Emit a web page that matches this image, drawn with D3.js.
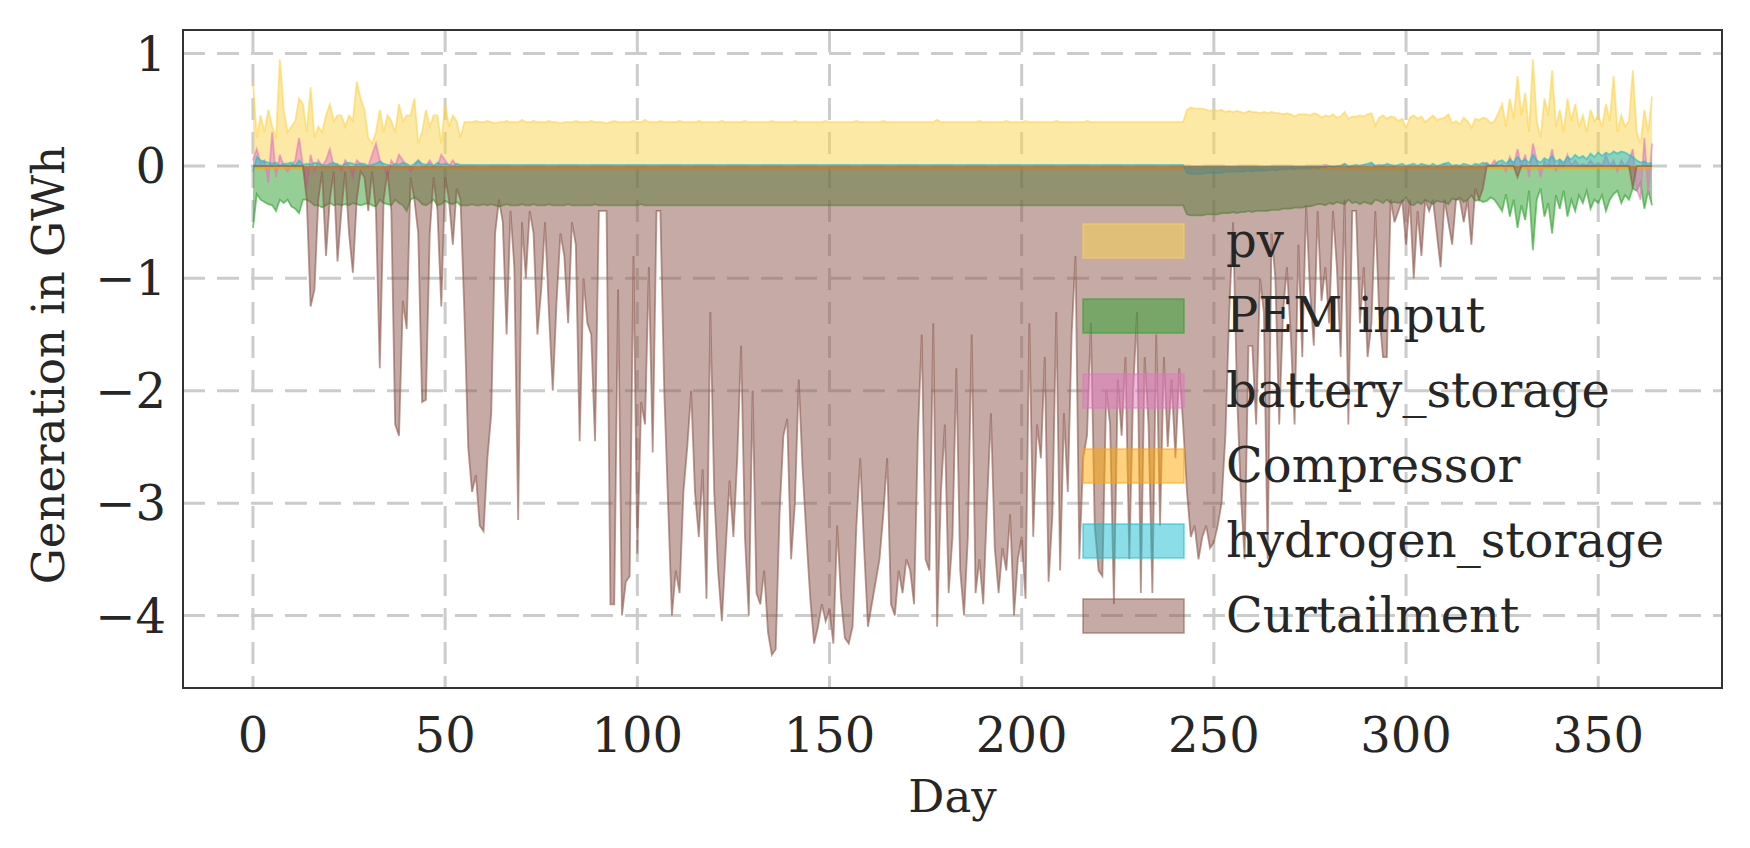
<!DOCTYPE html>
<html><head><meta charset="utf-8">
<script src="https://cdn.jsdelivr.net/npm/d3@7"></script>
<style>body{margin:0;background:#fff}svg{font-family:"DejaVu Serif",serif}</style>
</head><body><svg id="c" width="1750" height="848"></svg>
<script>
// ---- data (GWh per day, day index 0..364) ----
const xTicks=[0,50,100,150,200,250,300,350];
const yTicks=[1,0,-1,-2,-3,-4];
const seriesNames=["pv","PEM input","battery_storage","Compressor","hydrogen_storage","Curtailment"];
const seriesColors=["#fcd34d","#2ca02c","#e377c2","#ffa500","#17becf","#8c564b"];

const pvA=[0.75,0.25,0.45,0.3,0.5,0.35,0.25,0.95,0.5,0.3,0.35,0.4,0.6,0.55,0.3,0.7,0.25,0.35,0.3,0.45,0.55,0.4,0.45,0.45,0.35,0.45,0.4,0.75,0.6,0.5,0.25,0.2,0.3,0.5,0.3,0.45,0.4,0.3,0.55,0.4,0.45,0.45,0.6,0.2,0.3,0.5,0.35,0.45,0.45,0.2,0.55,0.35,0.45,0.4,0.25,0.39];
const pvB=[0.39,0.39,0.40,0.39,0.39,0.40,0.39,0.38,0.39,0.39,
0.40,0.39,0.39,0.39,0.41,0.39,0.39,0.40,0.39,0.39,
0.39,0.40,0.39,0.39,0.38,0.39,0.39,0.39,0.40,0.39,
0.39,0.39,0.40,0.39,0.39,0.39,0.38,0.39,0.40,0.39,
0.39,0.39,0.39,0.40,0.39,0.39,0.41,0.39,0.39,0.39,
0.40,0.39,0.39,0.39,0.39,0.40,0.39,0.39,0.39,0.39,
0.40,0.39,0.39,0.39,0.39,0.39,0.40,0.39,0.39,0.39,
0.39,0.39,0.40,0.39,0.39,0.39,0.39,0.39,0.39,0.40,
0.39,0.39,0.39,0.39,0.39,0.40,0.39,0.39,0.39,0.39,
0.39,0.39,0.39,0.40,0.39,0.39,0.39,0.39,0.39,0.39,
0.39,0.40,0.39,0.39,0.39,0.39,0.39,0.39,0.40,0.39,
0.39,0.39,0.39,0.39,0.39,0.39,0.39,0.39,0.39,0.39,
0.39,0.39,0.41,0.39,0.39,0.39,0.39,0.39,0.39,0.39,
0.39,0.39,0.39,0.40,0.39,0.39,0.39,0.39,0.39,0.39,
0.40,0.39,0.39,0.39,0.39,0.40,0.39,0.39,0.39,0.39,
0.39,0.39,0.39,0.40,0.39,0.39,0.39,0.39,0.39,0.39,
0.39,0.40,0.39,0.39,0.39,0.39,0.39,0.39,0.39,0.39,
0.39,0.39,0.39,0.39,0.39,0.39,0.39,0.39,0.39,0.39,
0.39,0.39,0.39,0.39,0.39,0.39,0.39];
const pvC=[0.50,0.52,0.51,0.51,0.51,0.50,0.49,0.50,0.49,0.50,
0.48,0.49,0.48,0.49,0.48,0.47,0.49,0.48,0.48,0.47,
0.48,0.47,0.48,0.47,0.47,0.46,0.47,0.46,0.44,0.46,
0.46,0.46,0.45,0.47,0.46,0.43,0.45,0.44,0.46,0.43,
0.44,0.48,0.42,0.44,0.44,0.45,0.44,0.46,0.47,0.36,
0.43,0.45,0.42,0.44,0.43,0.40,0.42];
const pvD=[0.34,0.43,0.45,0.42,0.44,0.39,0.42,0.45,0.41,0.42,
0.43,0.46,0.38,0.40,0.37,0.43,0.40,0.34,0.42,0.41,
0.43,0.42,0.38,0.40,0.47,0.55,0.35,0.60,0.42,0.80,
0.45,0.65,0.30,0.95,0.40,0.25,0.60,0.45,0.85,0.35,
0.50,0.30,0.60,0.40,0.55,0.35,0.45,0.30,0.50,0.40,
0.45,0.35,0.55,0.40,0.80,0.30,0.45,0.35,0.40,0.85,
0.30,0.20,0.50,0.30,0.62];
const pemA=[-0.55,-0.25,-0.3,-0.32,-0.34,-0.35,-0.4,-0.3,-0.33,-0.3,-0.36,-0.38,-0.42,-0.3,-0.3,-0.32,-0.35,-0.35,-0.37,-0.35,-0.33,-0.35,-0.34,-0.35,-0.34,-0.35,-0.33,-0.34,-0.35,-0.34,-0.33,-0.35,-0.36,-0.3,-0.33,-0.34,-0.35,-0.3,-0.33,-0.35,-0.4,-0.3,-0.28,-0.3,-0.34,-0.35,-0.33,-0.3,-0.35,-0.34,-0.31,-0.33,-0.34,-0.32,-0.35,-0.35];
const pemB=[-0.35,-0.34,-0.35,-0.35,-0.34,-0.35,-0.34,-0.35,-0.36,-0.35,
-0.34,-0.35,-0.35,-0.35,-0.34,-0.35,-0.35,-0.34,-0.35,-0.35,
-0.35,-0.34,-0.35,-0.35,-0.35,-0.35,-0.34,-0.35,-0.35,-0.35,
-0.35,-0.35,-0.35,-0.34,-0.35,-0.35,-0.35,-0.35,-0.35,-0.35,
-0.35,-0.35,-0.35,-0.35,-0.35,-0.34,-0.35,-0.35,-0.35,-0.35,
-0.35,-0.35,-0.35,-0.35,-0.35,-0.35,-0.35,-0.35,-0.35,-0.35,
-0.35,-0.35,-0.35,-0.35,-0.35,-0.35,-0.35,-0.35,-0.35,-0.35,
-0.35,-0.35,-0.35,-0.35,-0.35,-0.35,-0.35,-0.35,-0.35,-0.35,
-0.35,-0.35,-0.35,-0.35,-0.35,-0.35,-0.35,-0.35,-0.35,-0.35,
-0.35,-0.35,-0.35,-0.35,-0.35,-0.35,-0.35,-0.35,-0.35,-0.35,
-0.35,-0.35,-0.35,-0.35,-0.35,-0.35,-0.35,-0.35,-0.35,-0.35,
-0.35,-0.35,-0.35,-0.35,-0.35,-0.35,-0.35,-0.35,-0.35,-0.35,
-0.35,-0.35,-0.35,-0.35,-0.35,-0.35,-0.35,-0.35,-0.35,-0.35,
-0.35,-0.35,-0.35,-0.35,-0.35,-0.35,-0.35,-0.35,-0.35,-0.35,
-0.35,-0.35,-0.35,-0.35,-0.35,-0.35,-0.35,-0.35,-0.35,-0.35,
-0.35,-0.35,-0.35,-0.35,-0.35,-0.35,-0.35,-0.35,-0.35,-0.35,
-0.35,-0.35,-0.35,-0.35,-0.35,-0.35,-0.35,-0.35,-0.35,-0.35,
-0.35,-0.35,-0.35,-0.35,-0.35,-0.35,-0.35,-0.35,-0.35,-0.35,
-0.35,-0.35,-0.35,-0.35,-0.35,-0.35,-0.35];
const pemC=[-0.43,-0.44,-0.44,-0.44,-0.44,-0.43,-0.43,-0.43,-0.43,-0.42,
-0.42,-0.42,-0.41,-0.42,-0.41,-0.41,-0.40,-0.41,-0.40,-0.40,
-0.40,-0.40,-0.39,-0.39,-0.39,-0.38,-0.38,-0.38,-0.37,-0.37,
-0.37,-0.36,-0.36,-0.35,-0.34,-0.34,-0.35,-0.33,-0.34,-0.32,
-0.33,-0.34,-0.30,-0.33,-0.32,-0.34,-0.32,-0.33,-0.34,-0.30,
-0.31,-0.33,-0.30,-0.33,-0.32,-0.33,-0.32];
const pemD=[-0.28,-0.34,-0.35,-0.32,-0.34,-0.30,-0.32,-0.34,-0.31,-0.32,
-0.32,-0.34,-0.29,-0.30,-0.28,-0.32,-0.30,-0.26,-0.31,-0.30,
-0.32,-0.31,-0.28,-0.30,-0.35,-0.40,-0.25,-0.45,-0.30,-0.55,
-0.35,-0.48,-0.22,-0.75,-0.30,-0.20,-0.45,-0.33,-0.60,-0.26,
-0.38,-0.22,-0.45,-0.30,-0.40,-0.26,-0.33,-0.22,-0.38,-0.30,
-0.33,-0.26,-0.40,-0.30,-0.25,-0.22,-0.33,-0.26,-0.30,-0.20,
-0.22,-0.15,-0.38,-0.22,-0.35];
const batA=[0.05,0.15,0.02,0.05,-0.15,0.3,-0.1,0.1,0.0,-0.05,0.0,0.05,0.25,0.0,-0.2,0.1,-0.05,0.05,0.0,0.05,0.15,0.0,0.02,-0.05,0.05,0.0,-0.1,0.05,0.02,0.0,0.0,0.1,0.2,0.05,0.0,-0.1,0.05,0.0,0.1,0.05,0.0,-0.05,0.0,0.05,0.0,0.0,0.05,0.0,0.0,0.1,0.05,0.0,0.05,0.0,0.0,0.0];
const batB=[0,0,0,0,0,0,0,0,0,0,0,0,0,0,0,0,0,0,0,0,0,0,0,0,0,0,0,0,0,0,0,0,0,0,0,0,0,0,0,0,0,0,0,0,0,0,0,0,0,0,0,0,0,0,0,0,0,0,0,0,0,0,0,0,0,0,0,0,0,0,0,0,0,0,0,0,0,0,0,0,0,0,0,0,0,0,0,0,0,0,0,0,0,0,0,0,0,0,0,0,0,0,0,0,0,0,0,0,0,0,0,0,0,0,0,0,0,0,0,0,0,0,0,0,0,0,0,0,0,0,0,0,0,0,0,0,0,0,0,0,0,0,0,0,0,0,0,0,0,0,0,0,0,0,0,0,0,0,0,0,0,0,0,0,0,0,0,0,0,0,0,0,0,0,0,0,0,0,0,0,0,0,0,0,0,0,0];
const batC=[0,0,0,0,0,0,0,0,0,0,0,0,0,0,0,0,0,0,0,0,0,0,0,0,0,0,0,0,0,0,0,0,0,0,0,0,0.01,0,0,0,0,0.02,0,0,0,0,0.01,0,0.02,0,0,0.01,0,0,0,0,0];
const batD=[0,0,0,0,0,0,0,0,0,0,0.02,0,0,0,0,0,0,0,0,0,0,0.03,0,0.05,0,0.02,-0.05,0.08,0,0.15,0,0.1,-0.1,0.2,0.05,-0.1,0.05,0,0.15,-0.05,0.05,0,0.1,0,0.05,0,0.02,0,0.05,0,0.03,0,0.1,0,0.05,-0.05,0.05,0,0.05,0.15,-0.2,-0.3,0.25,-0.25,0.2];
const h2A=[-0.05,0.08,0.05,0.04,0.03,0.02,0.03,0.0,0.02,0.02,0.03,0.0,0.05,0.01,0.02,0.01,0.03,0.02,0.01,0.0,0.02,0.03,0.01,0.0,0.02,0.03,0.02,0.01,0.02,0.02,0.0,0.01,0.02,0.04,0.02,0.01,0.0,0.02,0.01,0.03,0.02,0.0,0.02,0.05,0.02,0.01,0.02,0.0,0.03,0.01,0.02,0.01,0.0,0.02,0.01,0.01];
const h2B=pemB.map(v=>0.01); // near-constant small storage flow during summer block
const h2C=[-0.06,-0.07,-0.07,-0.07,-0.07,-0.06,-0.06,-0.06,-0.06,-0.06,-0.05,-0.05,-0.05,-0.05,-0.05,-0.05,-0.04,-0.05,-0.04,-0.04,-0.04,-0.04,-0.03,-0.04,-0.03,-0.03,-0.03,-0.02,-0.03,-0.02,-0.02,-0.02,-0.02,-0.01,-0.02,-0.01,-0.01,0.0,-0.01,0.0,0.0,0.02,-0.01,0.0,0.01,0.0,0.01,0.02,0.03,0.0,0.01,0.0,0.02,0.01,0.0,0.01,0.02];
const h2D=[0.0,0.01,0.02,0.0,0.02,0.01,0.0,0.02,0.0,0.01,0.02,0.03,0.0,0.01,0.0,0.02,0.01,0.0,0.02,0.01,0.03,0.02,0.0,0.01,0.04,0.05,0.02,0.06,0.03,0.08,0.04,0.06,0.03,0.10,0.05,0.03,0.07,0.05,0.09,0.04,0.06,0.03,0.08,0.06,0.10,0.07,0.09,0.06,0.11,0.08,0.12,0.09,0.12,0.10,0.13,0.11,0.13,0.12,0.10,0.08,0.05,0.03,0.04,0.02,0.03];
const compA=pemA.map(v=>-0.02);
const compB=pemB.map(v=>-0.03);
const compC=pemC.map(v=>-0.03);
const compD=pemD.map(v=>-0.02);
const curtA=[0,0,0,0,0,0,0,0,0,0,0,0,0,0,
-0.3,-1.25,-1.1,-0.3,-0.05,-0.8,-0.3,-0.05,-0.85,-0.4,-0.05,-0.6,-0.95,-0.3,-0.05,-0.1,
-0.4,-0.05,-0.4,-1.8,-0.3,-0.05,-0.4,-2.3,-2.4,-1.2,-1.45,-0.1,-0.3,-0.6,-2.1,-2.08,-0.6,-0.1,-0.4,-1.25,
-0.1,-0.3,-0.7,-0.2,-0.3,-1.3,-2.5,-2.9,-2.75,-3.2,-3.25,-2.6,-2.2,-0.6,-0.3,-0.5,-1.5,-0.4,-0.9,-3.15,
-0.5,-1.0,-0.4,-0.6,-1.5,-1.1,-0.5,-1.3,-2.0,-1.2,-0.6,-0.8,-1.4,-0.5,-0.7,-2.45,-1.0,-1.4,-1.5,-2.45,
-0.4,-0.4,-0.4,-3.9,-3.9,-1.1,-4.0,-3.7,-3.65,-0.8,-3.45,-2.1,-2.3,-0.9,-2.55,-0.4,-0.4,-2.0,-3.0,-4.0,
-3.6,-3.8,-2.9,-2.5,-2.0,-2.9,-3.3,-2.7,-3.85,-1.3,-2.9,-3.6,-4.05,-3.4,-2.8,-3.3,-2.6,-1.6,-3.3,-4.0,
-2.0,-3.8,-3.9,-3.6,-4.15,-4.35,-4.3,-3.1,-2.4,-2.25,-3.5,-3.0,-1.9,-2.7,-3.3,-3.85,-4.25,-4.1,-3.9,-4.05,
-3.95,-4.25,-3.2,-3.85,-4.2,-4.25,-4.1,-3.2,-2.6,-3.4,-4.1,-3.9,-3.7,-3.5,-3.1,-2.6,-3.9,-4.0,-3.6,-3.8,
-3.5,-3.6,-3.9,-2.4,-1.5,-3.5,-3.6,-1.4,-4.1,-2.9,-2.3,-3.8,-3.3,-1.8,-3.6,-4.0,-3.3,-1.5,-3.8,-3.5,
-3.9,-3.0,-2.2,-3.4,-3.8,-3.4,-3.6,-3.1,-4.0,-3.5,-3.3,-3.85,-1.4,-3.3,-2.3,-2.6,-1.7,-3.7,-3.1,-1.3,
-3.6,-2.2,-2.9,-1.5,-0.8,-3.5,-2.6,-2.4,-1.4,-3.2,-3.6,-3.65,-2.0,-2.3,-3.9,-1.9,-2.4,-1.7,-3.5,-2.0,
-1.3,-3.8,-1.7,-2.3,-3.8,-1.5,-3.2,-1.7,-2.5,-1.9,-2.6,-1.8,-2.3,-2.9,-3.3,-3.2,-3.5,-3.3,-3.2,-3.4,
-3.35,-3.2,-3.0,-2.4,-1.3,-0.5,-2.0,-2.9,-3.5,-1.6,-1.6,-2.3,-1.0,-1.3,-3.5,-0.6,-1.0,-2.3,-1.3,-0.9,
-1.5,-2.3,-0.7,-1.7,-0.35,-1.1,-1.6,-0.4,-1.2,-0.9,-1.4,-0.4,-0.9,-1.7,-0.3,-2.3,-0.4,-0.4,-1.4,-0.9,
-1.7,-1.4,-0.4,-1.3,-1.7,-1.7,-0.3,-0.5,-0.4,-0.3,-0.7,-0.3,-1.0,-0.4,-0.8,-0.3,-0.4,-0.3,-0.6,-0.9,
-0.3,-0.5,-0.7,-0.3,-0.3,-0.5,-0.3,-0.7,-0.2,-0.3,-0.2,
0,0,0,0,0,0,0,0,-0.1,0,0,0,0,0,0,0,0,0,0,0,0,0,0,0,0,0,0,0,0,0,0,0,0,0,0,0,0,0,-0.2,0,0,0,0,0];

const pv=pvA.concat(pvB,pvC,pvD);
const pem=pemA.concat(pemB,pemC,pemD);
const battery=batA.concat(batB,batC,batD);
const compressor=compA.concat(compB,compC,compD);
const hydrogen=h2A.concat(h2B,h2C,h2D);
const curtailment=curtA;

// ---- drawing ----
const svg=d3.select("#c");
const L=183,R=1722,T=30,B=688;
const x=d3.scaleLinear().domain([-18.2,382.2]).range([L,R]);
const y=d3.scaleLinear().domain([-4.645,1.21]).range([B,T]);

const g=svg.append("g");
g.selectAll(".gx").data(xTicks).join("line").attr("x1",d=>x(d)).attr("x2",d=>x(d)).attr("y1",T).attr("y2",B)
 .attr("stroke","#cccccc").attr("stroke-width",3).attr("stroke-dasharray","22,12");
g.selectAll(".gy").data(yTicks).join("line").attr("y1",d=>y(d)).attr("y2",d=>y(d)).attr("x1",L).attr("x2",R)
 .attr("stroke","#cccccc").attr("stroke-width",3).attr("stroke-dasharray","22,12");

const all=[pv,pem,battery,compressor,hydrogen,curtailment];
all.forEach((series,i)=>{
  const data=series.slice(0,365);
  const area=d3.area().x((d,j)=>x(j)).y0(y(0)).y1(d=>y(d));
  const line=d3.line().x((d,j)=>x(j)).y(d=>y(d));
  g.append("path").attr("d",area(data)).attr("fill",seriesColors[i]).attr("fill-opacity",0.5);
  g.append("path").attr("d",line(data)).attr("fill","none").attr("stroke",seriesColors[i]).attr("stroke-opacity",0.6).attr("stroke-width",1.8);
});

svg.append("rect").attr("x",L).attr("y",T).attr("width",R-L).attr("height",B-T).attr("fill","none").attr("stroke","#333").attr("stroke-width",2);

svg.selectAll(".xl").data(xTicks).join("text").attr("x",d=>x(d)).attr("y",752).attr("text-anchor","middle")
 .attr("font-size",48).attr("fill","#262626").text(d=>d);
svg.selectAll(".yl").data(yTicks).join("text").attr("x",166).attr("y",d=>y(d)+17).attr("text-anchor","end")
 .attr("font-size",48).attr("fill","#262626").text(d=>d<0?"\u2212"+(-d):d);
svg.append("text").attr("x",(L+R)/2).attr("y",812).attr("text-anchor","middle").attr("font-size",45).attr("fill","#262626").text("Day");
svg.append("text").attr("transform",`translate(64,${(T+B)/2+6}) rotate(-90)`).attr("text-anchor","middle").attr("font-size",45).attr("fill","#262626").text("Generation in GWh");

// legend
const lg=svg.append("g");
seriesNames.forEach((n,i)=>{
  const yy=241+i*75;
  lg.append("rect").attr("x",1083).attr("y",yy-17).attr("width",101).attr("height",34)
    .attr("fill",seriesColors[i]).attr("fill-opacity",0.5).attr("stroke",seriesColors[i]).attr("stroke-opacity",0.6).attr("stroke-width",1.5);
  lg.append("text").attr("x",1226).attr("y",yy+16).attr("font-size",48).attr("fill","#262626").text(n);
});
</script></body></html>
